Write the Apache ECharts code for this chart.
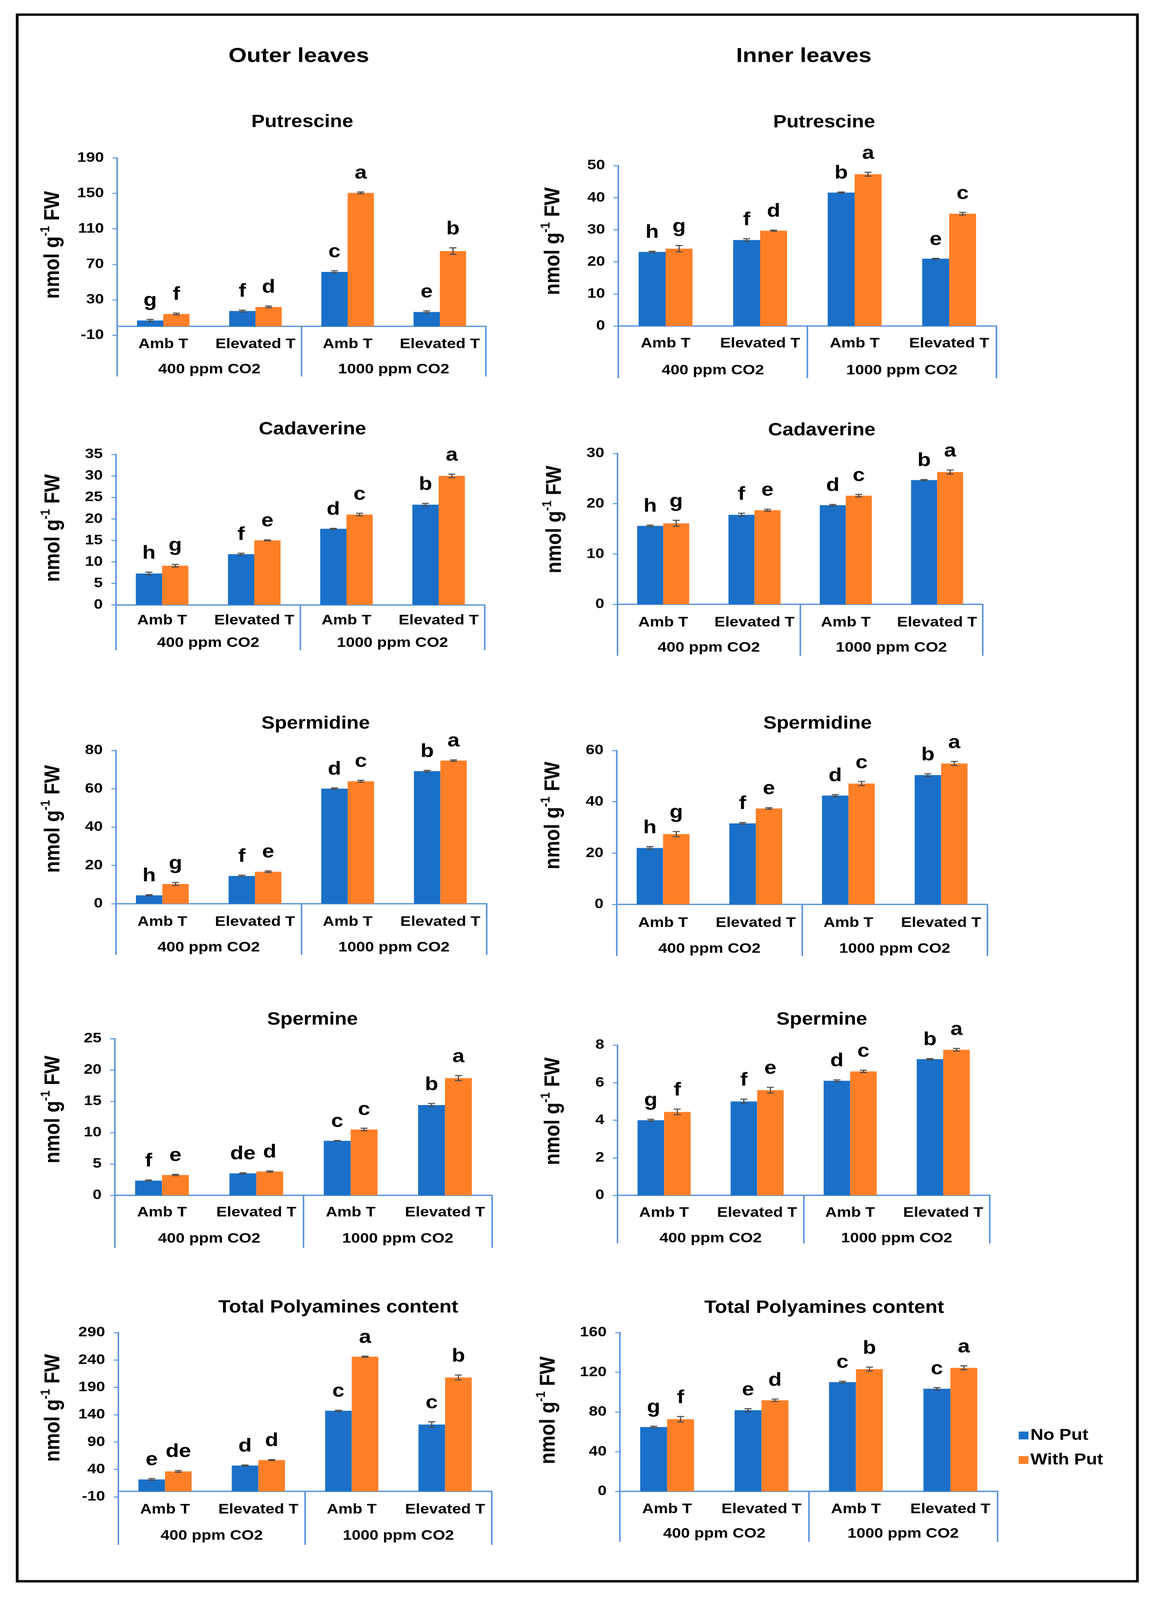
<!DOCTYPE html>
<html><head><meta charset="utf-8">
<script src="https://cdn.jsdelivr.net/npm/echarts@6/dist/echarts.min.js"></script>
<style>html,body{margin:0;padding:0;background:#fff;overflow:hidden}#c{width:2957px;height:4697px;transform-origin:0 0}</style>
</head><body><div id="c"></div>
<script>
// ---------- DATA ----------
const categories = ['Amb T', 'Elevated T', 'Amb T', 'Elevated T'];
const groups = ['400 ppm CO2', '1000 ppm CO2'];
const seriesNames = ['No Put', 'With Put'];
const columnTitles = ['Outer leaves', 'Inner leaves'];

// Outer leaves
const putOuterNo = [6.6, 17.3, 61.5, 16.2];
const putOuterNoErr = [1.2, 1.0, 1.2, 1.2];
const putOuterWith = [13.9, 21.8, 150.5, 84.9];
const putOuterWithErr = [1.0, 1.0, 1.0, 3.7];
const putOuterNoLet = ['g', 'f', 'c', 'e'];
const putOuterWithLet = ['f', 'd', 'a', 'b'];

const cadOuterNo = [7.3, 11.8, 17.7, 23.3];
const cadOuterNoErr = [0.3, 0.2, 0.1, 0.3];
const cadOuterWith = [9.1, 15.0, 21.0, 30.0];
const cadOuterWithErr = [0.3, 0.1, 0.3, 0.4];
const cadOuterNoLet = ['h', 'f', 'd', 'b'];
const cadOuterWithLet = ['g', 'e', 'c', 'a'];

const spdOuterNo = [4.4, 14.5, 60.1, 69.2];
const spdOuterNoErr = [0.3, 0.4, 0.3, 0.4];
const spdOuterWith = [10.3, 16.7, 63.9, 74.7];
const spdOuterWithErr = [0.8, 0.4, 0.5, 0.4];
const spdOuterNoLet = ['h', 'f', 'd', 'b'];
const spdOuterWithLet = ['g', 'e', 'c', 'a'];

const spmOuterNo = [2.35, 3.5, 8.7, 14.4];
const spmOuterNoErr = [0.1, 0.1, 0.05, 0.25];
const spmOuterWith = [3.25, 3.8, 10.5, 18.7];
const spmOuterWithErr = [0.1, 0.1, 0.2, 0.4];
const spmOuterNoLet = ['f', 'de', 'c', 'b'];
const spmOuterWithLet = ['e', 'd', 'c', 'a'];

const totOuterNo = [21.8, 47.1, 147.1, 122.1];
const totOuterNoErr = [1.5, 1.0, 1.0, 5.0];
const totOuterWith = [36.4, 57.1, 246, 208];
const totOuterWithErr = [1.5, 1.0, 1.0, 4.5];
const totOuterNoLet = ['e', 'd', 'c', 'c'];
const totOuterWithLet = ['de', 'd', 'a', 'b'];

// Inner leaves
const putInnerNo = [23.1, 26.8, 41.6, 21.0];
const putInnerNoErr = [0.2, 0.4, 0.15, 0.1];
const putInnerWith = [24.1, 29.7, 47.3, 35.0];
const putInnerWithErr = [1.0, 0.2, 0.6, 0.4];
const putInnerNoLet = ['h', 'f', 'b', 'e'];
const putInnerWithLet = ['g', 'd', 'a', 'c'];

const cadInnerNo = [15.6, 17.8, 19.7, 24.7];
const cadInnerNoErr = [0.15, 0.3, 0.15, 0.1];
const cadInnerWith = [16.1, 18.7, 21.6, 26.3];
const cadInnerWithErr = [0.6, 0.2, 0.25, 0.4];
const cadInnerNoLet = ['h', 'f', 'd', 'b'];
const cadInnerWithLet = ['g', 'e', 'c', 'a'];

const spdInnerNo = [22.0, 31.6, 42.4, 50.4];
const spdInnerNoErr = [0.5, 0.3, 0.4, 0.5];
const spdInnerWith = [27.4, 37.4, 47.1, 54.9];
const spdInnerWithErr = [1.0, 0.3, 0.8, 0.8];
const spdInnerNoLet = ['h', 'f', 'd', 'b'];
const spdInnerWithLet = ['g', 'e', 'c', 'a'];

const spmInnerNo = [4.0, 5.0, 6.1, 7.25];
const spmInnerNoErr = [0.05, 0.12, 0.05, 0.03];
const spmInnerWith = [4.44, 5.6, 6.6, 7.75];
const spmInnerWithErr = [0.15, 0.15, 0.06, 0.07];
const spmInnerNoLet = ['g', 'f', 'd', 'b'];
const spmInnerWithLet = ['f', 'e', 'c', 'a'];

const totInnerNo = [64.8, 81.8, 110.1, 103.4];
const totInnerNoErr = [0.8, 1.5, 0.8, 1.2];
const totInnerWith = [72.7, 91.8, 123.2, 124.5];
const totInnerWithErr = [2.7, 1.2, 2.0, 2.0];
const totInnerNoLet = ['g', 'e', 'c', 'c'];
const totInnerWithLet = ['f', 'd', 'b', 'a'];

// Axis ranges (tick labels): [min, max, interval]
const putOuterAxis = [-10, 190, 40];
const cadOuterAxis = [0, 35, 5];
const spdOuterAxis = [0, 80, 20];
const spmOuterAxis = [0, 25, 5];
const totOuterAxis = [-10, 290, 50];
const putInnerAxis = [0, 50, 10];
const cadInnerAxis = [0, 30, 10];
const spdInnerAxis = [0, 60, 20];
const spmInnerAxis = [0, 8, 2];
const totInnerAxis = [0, 160, 40];

const panels = [
  {title: 'Putrescine', no: putOuterNo, noE: putOuterNoErr, wi: putOuterWith, wiE: putOuterWithErr, noL: putOuterNoLet, wiL: putOuterWithLet, axis: putOuterAxis},
  {title: 'Cadaverine', no: cadOuterNo, noE: cadOuterNoErr, wi: cadOuterWith, wiE: cadOuterWithErr, noL: cadOuterNoLet, wiL: cadOuterWithLet, axis: cadOuterAxis},
  {title: 'Spermidine', no: spdOuterNo, noE: spdOuterNoErr, wi: spdOuterWith, wiE: spdOuterWithErr, noL: spdOuterNoLet, wiL: spdOuterWithLet, axis: spdOuterAxis},
  {title: 'Spermine', no: spmOuterNo, noE: spmOuterNoErr, wi: spmOuterWith, wiE: spmOuterWithErr, noL: spmOuterNoLet, wiL: spmOuterWithLet, axis: spmOuterAxis},
  {title: 'Total Polyamines content', no: totOuterNo, noE: totOuterNoErr, wi: totOuterWith, wiE: totOuterWithErr, noL: totOuterNoLet, wiL: totOuterWithLet, axis: totOuterAxis},
  {title: 'Putrescine', no: putInnerNo, noE: putInnerNoErr, wi: putInnerWith, wiE: putInnerWithErr, noL: putInnerNoLet, wiL: putInnerWithLet, axis: putInnerAxis},
  {title: 'Cadaverine', no: cadInnerNo, noE: cadInnerNoErr, wi: cadInnerWith, wiE: cadInnerWithErr, noL: cadInnerNoLet, wiL: cadInnerWithLet, axis: cadInnerAxis},
  {title: 'Spermidine', no: spdInnerNo, noE: spdInnerNoErr, wi: spdInnerWith, wiE: spdInnerWithErr, noL: spdInnerNoLet, wiL: spdInnerWithLet, axis: spdInnerAxis},
  {title: 'Spermine', no: spmInnerNo, noE: spmInnerNoErr, wi: spmInnerWith, wiE: spmInnerWithErr, noL: spmInnerNoLet, wiL: spmInnerWithLet, axis: spmInnerAxis},
  {title: 'Total Polyamines content', no: totInnerNo, noE: totInnerNoErr, wi: totInnerWith, wiE: totInnerWithErr, noL: totInnerNoLet, wiL: totInnerWithLet, axis: totInnerAxis}
];

// ---------- LAYOUT (pixels, in the 2957 x 4697 design frame) ----------
const DESIGN_W = 2957, DESIGN_H = 4697;
const layout = [
  {left: 300, top: 463.5, width: 944, height: 520.5, sep: 147, catM: 32, grpM: 106, tx: 774, ty: 359, lx: 132, ly: 719},
  {left: 297, top: 1334, width: 944, height: 441.5, sep: 133, catM: 26, grpM: 92, tx: 800, ty: 1261, lx: 133, ly: 1550},
  {left: 297, top: 2203, width: 949, height: 450, sep: 150, catM: 33, grpM: 108, tx: 808, ty: 2125, lx: 133, ly: 2404},
  {left: 294, top: 3049, width: 966, height: 460, sep: 154, catM: 30, grpM: 107, tx: 800, ty: 2994, lx: 133, ly: 3257},
  {left: 303, top: 3912, width: 956, height: 482, sep: 157, catM: 33, grpM: 110, tx: 866, ty: 3839, lx: 133, ly: 4133},
  {left: 1583, top: 486, width: 968, height: 471, sep: 153, catM: 31, grpM: 110, tx: 2110, ty: 360, lx: 1413, ly: 708},
  {left: 1581, top: 1331, width: 935, height: 443, sep: 151, catM: 33, grpM: 107, tx: 2104, ty: 1264, lx: 1417, ly: 1525},
  {left: 1579, top: 2203, width: 949, height: 452, sep: 151, catM: 34, grpM: 110, tx: 2093, ty: 2125, lx: 1413, ly: 2394},
  {left: 1581, top: 3068, width: 953, height: 441, sep: 141, catM: 31, grpM: 106, tx: 2104, ty: 2994, lx: 1413, ly: 3262},
  {left: 1587, top: 3912, width: 967, height: 466, sep: 148, catM: 32, grpM: 104, tx: 2110, ty: 3840, lx: 1401, ly: 4140}
];

const FONT = '"Liberation Sans", Arial, Helvetica, sans-serif';
const AXIS = '#5E95DC';
const BLUE = '#1A70C8';
const ORANGE = '#FF7F27';
const ERRC = '#4A4A4A';
const GAP = 0.43;

// fit the design frame into the actual viewport (browser may cap the window height)
const el = document.getElementById('c');
const fitX = Math.min(1, (window.innerWidth || DESIGN_W) / DESIGN_W);
const fitY = Math.min(1, (window.innerHeight || DESIGN_H) / DESIGN_H);
el.style.transform = 'scale(' + fitX + ',' + fitY + ')';

const grids = [], xAxes = [], yAxes = [], series = [], graphics = [];

function errSeries(pi, side, vals, errs, letters) {
  return {
    type: 'custom', xAxisIndex: pi * 2, yAxisIndex: pi, z: 10, silent: true, clip: false,
    data: vals.map((v, i) => [i, v, errs[i]]),
    encode: {x: 0, y: 1},
    renderItem: function (params, api) {
      const i = api.value(0), v = api.value(1), e = api.value(2);
      const base = api.coord([i, v]);
      const band = api.size([1, 0])[0];
      const bw = band * (1 - GAP) / 2;
      const cx = base[0] + side * bw / 2;
      const yT = api.coord([i, v + e])[1];
      const yB = api.coord([i, v - e])[1];
      const cap = 9;
      const st = {stroke: ERRC, lineWidth: 3};
      return {type: 'group', children: [
        {type: 'line', shape: {x1: cx, y1: yT, x2: cx, y2: yB}, style: st},
        {type: 'line', shape: {x1: cx - cap, y1: yT, x2: cx + cap, y2: yT}, style: st},
        {type: 'line', shape: {x1: cx - cap, y1: yB, x2: cx + cap, y2: yB}, style: st},
        {type: 'text', x: cx, y: yT - 27, style: {text: letters[params.dataIndex], font: 'bold 56px ' + FONT, fill: '#000', align: 'center', verticalAlign: 'bottom', textAlign: 'center', textVerticalAlign: 'bottom'}}
      ]};
    }
  };
}

panels.forEach((p, pi) => {
  const L = layout[pi];
  const min = p.axis[0], max = p.axis[1];
  // move both x axes from the grid bottom up to the zero line
  const zeroOffset = -L.height * (0 - min) / (max - min);
  grids.push({left: L.left, top: L.top, width: L.width, height: L.height, containLabel: false});
  const lblStyle = {fontSize: 41, fontWeight: 'bold', color: '#000', fontFamily: FONT};
  xAxes.push({
    type: 'category', gridIndex: pi, data: categories, position: 'bottom', offset: zeroOffset,
    axisLine: {show: true, onZero: false, lineStyle: {color: AXIS, width: 4}},
    axisTick: {show: false},
    axisLabel: Object.assign({interval: 0, margin: L.catM}, lblStyle),
    splitLine: {show: false}
  });
  xAxes.push({
    type: 'category', gridIndex: pi, data: groups, position: 'bottom', offset: zeroOffset,
    axisLine: {show: false, onZero: false},
    axisTick: {show: true, length: L.sep, lineStyle: {color: AXIS, width: 4}},
    axisLabel: Object.assign({interval: 0, margin: L.grpM}, lblStyle),
    splitLine: {show: false}
  });
  yAxes.push({
    type: 'value', gridIndex: pi, min: min, max: max, interval: p.axis[2],
    axisLine: {show: true, onZero: false, lineStyle: {color: AXIS, width: 4}},
    axisTick: {show: true, length: 12, lineStyle: {color: AXIS, width: 3}},
    axisLabel: Object.assign({margin: 34}, lblStyle),
    splitLine: {show: false}
  });
  series.push({
    name: seriesNames[0], type: 'bar', xAxisIndex: pi * 2, yAxisIndex: pi, data: p.no,
    itemStyle: {color: BLUE}, barGap: '0%', barCategoryGap: (GAP * 100) + '%'
  });
  series.push({
    name: seriesNames[1], type: 'bar', xAxisIndex: pi * 2, yAxisIndex: pi, data: p.wi,
    itemStyle: {color: ORANGE}, barGap: '0%', barCategoryGap: (GAP * 100) + '%'
  });
  series.push(errSeries(pi, -1, p.no, p.noE, p.noL));
  series.push(errSeries(pi, 1, p.wi, p.wiE, p.wiL));

  graphics.push({type: 'text', x: L.tx, y: L.ty, style: {text: p.title, font: 'bold 51px ' + FONT, fill: '#000', align: 'center', verticalAlign: 'middle', textAlign: 'center', textVerticalAlign: 'middle'}});
  graphics.push({type: 'text', x: L.lx, y: L.ly, rotation: Math.PI / 2,
    style: {text: '{a|nmol g}{s|-1}{a| FW}', align: 'center', verticalAlign: 'middle', textAlign: 'center', textVerticalAlign: 'middle', fill: '#000',
      rich: {
        a: {fontSize: 56, fontWeight: 'bold', fontFamily: FONT, fill: '#000', color: '#000', lineHeight: 64, verticalAlign: 'bottom'},
        s: {fontSize: 34, fontWeight: 'bold', fontFamily: FONT, fill: '#000', color: '#000', lineHeight: 64, verticalAlign: 'top'}
      }}});
});

graphics.push({type: 'text', x: 765, y: 165, style: {text: columnTitles[0], font: 'bold 60px ' + FONT, fill: '#000', align: 'center', verticalAlign: 'middle', textAlign: 'center', textVerticalAlign: 'middle'}});
graphics.push({type: 'text', x: 2058, y: 165, style: {text: columnTitles[1], font: 'bold 60px ' + FONT, fill: '#000', align: 'center', verticalAlign: 'middle', textAlign: 'center', textVerticalAlign: 'middle'}});
graphics.push({type: 'rect', shape: {x: 44, y: 43, width: 2868, height: 4599}, style: {fill: 'none', stroke: '#000', lineWidth: 7}, z: 100});

const chart = echarts.init(el, null, {renderer: 'canvas', width: DESIGN_W, height: DESIGN_H});
chart.setOption({
  animation: false,
  backgroundColor: '#fff',
  grid: grids,
  xAxis: xAxes,
  yAxis: yAxes,
  series: series,
  legend: {
    data: seriesNames, orient: 'vertical', left: 2603, top: 4186,
    itemWidth: 25, itemHeight: 23, itemGap: 26, icon: 'rect', selectedMode: false,
    textStyle: {fontSize: 46, fontWeight: 'bold', color: '#000', fontFamily: FONT}
  },
  graphic: graphics
});
</script>
</body></html>
